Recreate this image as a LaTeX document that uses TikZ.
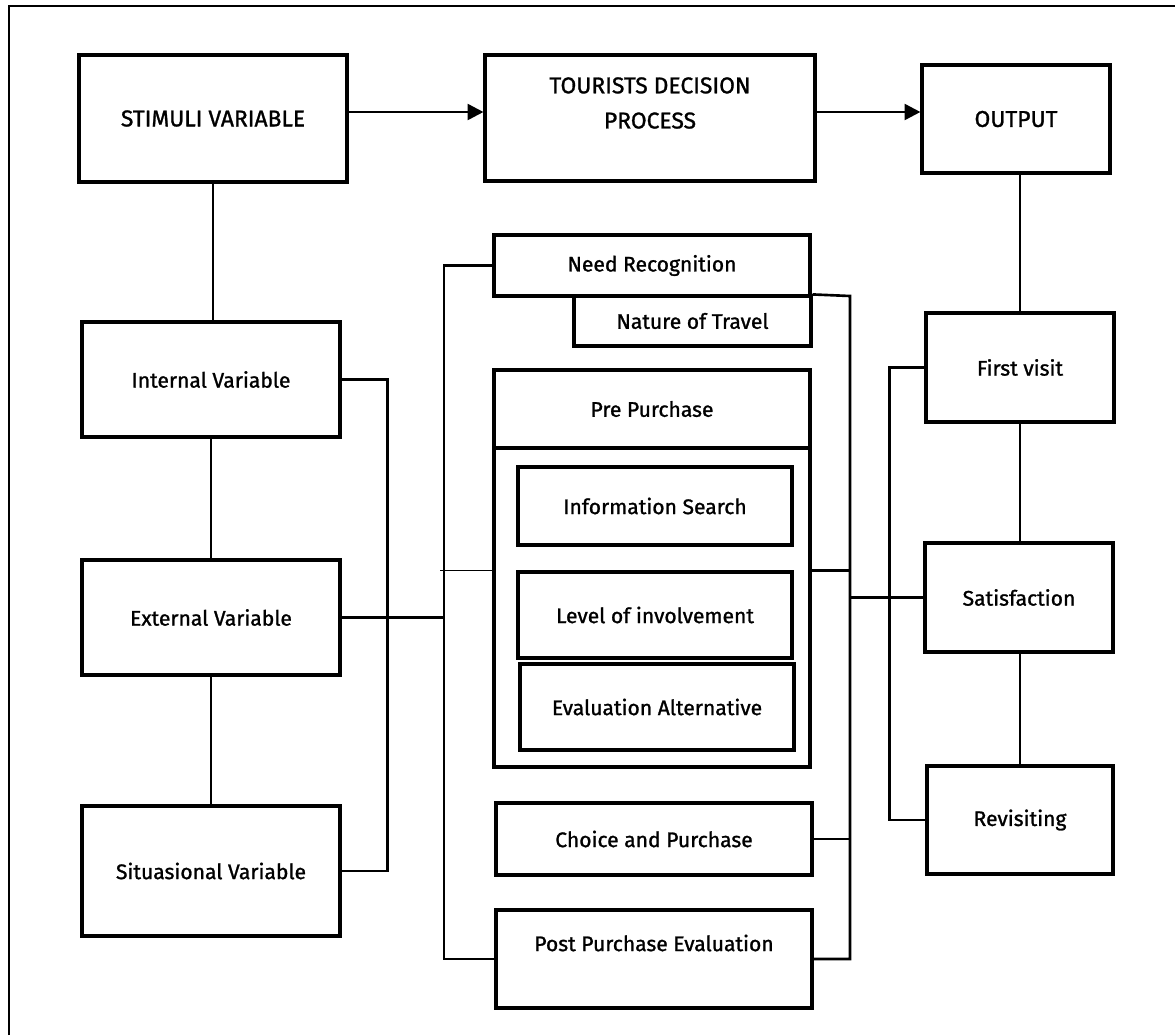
\documentclass[tikz,border=0pt]{standalone}
\usepackage{fontspec}
\setmainfont{Fira Sans}[FakeBold=1.2]
\usetikzlibrary{arrows.meta}
\tikzset{
  box/.style={draw, line width=1.8pt, inner sep=0pt, font=\fontsize{12}{14}\selectfont},
  bigbox/.style={box, font=\fontsize{13}{20}\selectfont},
  link/.style={line width=1.5pt},
}
\begin{document}
\begin{tikzpicture}[x=0.02cm, y=-0.02cm]
\useasboundingbox (0,0) rectangle (1175,1035);
% frame
\draw[line width=1.5pt] (9,1035) -- (9,6) -- (1175,6);
% top row
\node[bigbox, minimum width=5.36cm, minimum height=2.54cm] (stim) at (213,118.5){STIMULI VARIABLE};
\node[bigbox, minimum width=6.6cm, minimum height=2.52cm] (tdp) at (650,118){};
\node[font=\fontsize{13}{20}\selectfont, align=center] (tdptext) at (650,103){TOURISTS DECISION\\PROCESS};
\node[bigbox, minimum width=3.76cm, minimum height=2.16cm] (out) at (1016,119){OUTPUT};
% variables
\node[box, minimum width=5.16cm, minimum height=2.3cm] (intv) at (211,379.5){Internal Variable};
\node[box, minimum width=5.16cm, minimum height=2.3cm] (extv) at (211,617.5){External Variable};
\node[box, minimum width=5.16cm, minimum height=2.6cm] (sitv) at (211,871){Situasional Variable};
% decision process
\node[box, minimum width=6.32cm, minimum height=1.22cm] (need) at (652,265.5){Need Recognition};
\node[box, minimum width=4.74cm, minimum height=1.0cm] (nature) at (692.5,321){Nature of Travel};
\node[box, minimum width=6.32cm, minimum height=1.56cm] (preh) at (652,409){Pre Purchase};
\node[box, minimum width=6.32cm, minimum height=6.38cm] (preb) at (652,607.5){};
\node[box, minimum width=5.48cm, minimum height=1.56cm] (info) at (655,506){Information Search};
\node[box, minimum width=5.48cm, minimum height=1.72cm] (level) at (655,615){Level of involvement};
\node[box, minimum width=5.48cm, minimum height=1.72cm] (evalalt) at (657,707){Evaluation Alternative};
\node[box, minimum width=6.32cm, minimum height=1.44cm] (choice) at (654,839){Choice and Purchase};
\node[box, minimum width=6.32cm, minimum height=1.96cm] (post) at (654,959){};
\node[font=\fontsize{12}{14}\selectfont] (posttext) at (654,943){Post Purchase Evaluation};
% output
\node[box, minimum width=3.76cm, minimum height=2.18cm] (first) at (1020,367.5){First visit};
\node[box, minimum width=3.76cm, minimum height=2.18cm] (satis) at (1019,597.5){Satisfaction};
\node[box, minimum width=3.72cm, minimum height=2.16cm] (revis) at (1020,820){Revisiting};
% bracket points
\coordinate (pbr) at (444,268);
\coordinate (rbr) at (850,296);
% arrows
\draw[link, -{Triangle[length=9pt, width=9pt]}](stim.east |- 0,112) -- (tdp.west |- 0,112);
\draw[link, -{Triangle[length=9pt, width=9pt]}](tdp.east |- 0,112) -- (out.west |- 0,112);
% vertical links
\draw[link](stim.south) -- (stim.south |- intv.north);
\draw[link](intv.south) -- (extv.north);
\draw[link](extv.south) -- (sitv.north);
\draw[link](first.north |- out.south) -- (first.north);
\draw[link](first.south) -- (first.south |- satis.north);
\draw[link](revis.north |- satis.south) -- (revis.north);
% brackets
\draw[link](intv.east) -- ++(46,0) |- (sitv.east);
\draw[link](extv.east) -- (extv.east -| pbr);
\draw[link](need.west) -- (need.west -| pbr) |- (post.west);
\draw[line width=0.8pt]([xshift=-0.08cm]pbr |- level.north) -- (preb.west |- level.north);
\draw[link](nature.north east) -- (rbr) |- (post.east);
\draw[link](preb.east |- level.north) -- (rbr |- level.north);
\draw[link](choice.east) -- (choice.east -| rbr);
\draw[link](rbr |- satis.west) -- (satis.west);
\draw[link](first.west) -- ++(-35,0) |- (revis.west);
\end{tikzpicture}
\end{document}
